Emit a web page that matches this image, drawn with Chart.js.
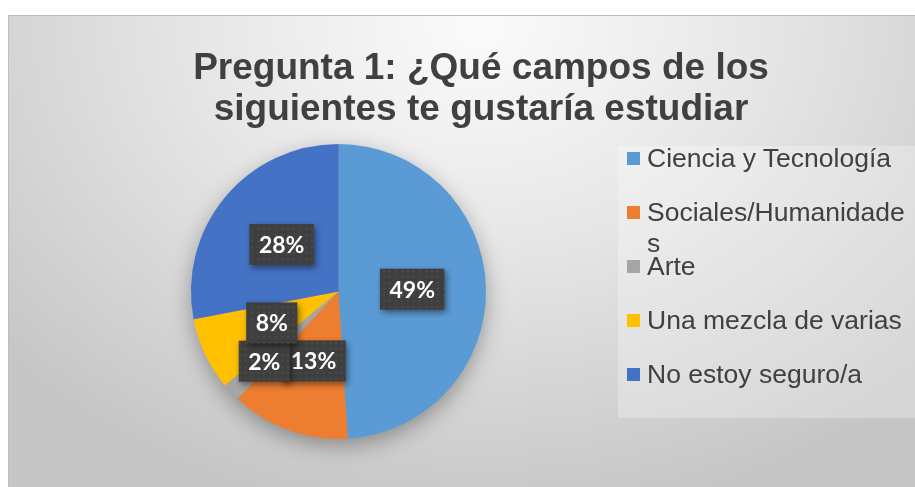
<!DOCTYPE html>
<html>
<head>
<meta charset="utf-8">
<script src="https://cdn.jsdelivr.net/npm/chart.js@4/dist/chart.umd.min.js"></script>
<style>
  html, body { margin: 0; padding: 0; background: #fff; width: 915px; height: 487px; overflow: hidden; }
  #box {
    position: absolute; left: 8px; top: 15px; width: 907px; height: 472px; box-sizing: border-box;
    border-top: 1px solid #bdbdbd; border-left: 1px solid #bdbdbd;
    background: radial-gradient(ellipse 70% 105% at 52% 2%, #fbfbfb 0%, #e6e6e6 45%, #c6c6c6 100%);
  }
  #pieChart { position: absolute; left: 0; top: 0; }
  #title {
    position: absolute; left: 181px; top: 46px; width: 600px; text-align: center;
    font: bold 37px "Liberation Sans", Arial, sans-serif; line-height: 41px; color: #404040;
  }
  #legend {
    position: absolute; left: 618px; top: 146px; width: 297px; height: 272px;
    background: rgba(255,255,255,0.28);
  }
  .item {
    position: absolute; left: 9px; display: flex; align-items: flex-start;
    font: 26.5px "Liberation Sans", Arial, sans-serif; line-height: 31px; color: #404040;
  }
  .item .sw { width: 13px; height: 13px; margin-top: 9.5px; margin-right: 7px; flex: none; }
  .item .tx { width: 264px; word-break: break-all; }
</style>
</head>
<body>
<div id="box"><canvas id="pieChart" width="906" height="471"></canvas></div>
<div id="title">Pregunta 1: ¿Qué campos de los siguientes te gustaría estudiar</div>
<div id="legend"></div>
<script>
const categories = ['Ciencia y Tecnología', 'Sociales/Humanidades', 'Arte', 'Una mezcla de varias', 'No estoy seguro/a'];
const values = [49, 13, 2, 8, 28];
const colors = ['#5B9BD5', '#ED7D31', '#A5A5A5', '#FFC000', '#4472C4'];

// patrón punteado de las etiquetas
function dotPattern(ctx) {
  const c = document.createElement('canvas');
  c.width = 6; c.height = 6;
  const g = c.getContext('2d');
  g.fillStyle = '#3f3f3f';
  g.fillRect(0, 0, 6, 6);
  g.fillStyle = '#4a4a4a';
  g.fillRect(2, 2, 2, 2);
  return ctx.createPattern(c, 'repeat');
}

const hit = (a, b) => a.x0 < b.x1 && a.x1 > b.x0 && a.y0 < b.y1 && a.y1 > b.y0;

const pieShadow = {
  id: 'pieShadow',
  beforeDatasetsDraw(chart) {
    const arc = chart.getDatasetMeta(0).data[0];
    if (!arc) return;
    const { x, y, outerRadius } = arc.getProps(['x', 'y', 'outerRadius'], true);
    const ctx = chart.ctx;
    ctx.save();
    ctx.shadowColor = 'rgba(0,0,0,0.35)';
    ctx.shadowBlur = 22;
    ctx.shadowOffsetY = 7;
    ctx.fillStyle = '#999';
    ctx.beginPath();
    ctx.arc(x, y, outerRadius - 1, 0, Math.PI * 2);
    ctx.fill();
    ctx.restore();
  }
};

const boxLabels = {
  id: 'boxLabels',
  afterDatasetsDraw(chart) {
    const ctx = chart.ctx;
    const meta = chart.getDatasetMeta(0);
    const data = chart.data.datasets[0].data;
    const total = data.reduce((a, b) => a + b, 0);
    const pattern = dotPattern(ctx);
    const placed = [];
    ctx.save();
    ctx.font = 'bold 23px Lato, "Open Sans", sans-serif';
    meta.data.forEach((arc, i) => {
      const { x, y, startAngle, endAngle, outerRadius } =
        arc.getProps(['x', 'y', 'startAngle', 'endAngle', 'outerRadius'], true);
      const mid = (startAngle + endAngle) / 2;
      const txt = Math.round(data[i] / total * 100) + '%';
      const tw = ctx.measureText(txt).width;
      const bw = tw + 19, bh = 41;
      let f = 0.5, cx, cy, b, t;
      // empuja la etiqueta hacia afuera si choca con otra
      for (; f < 1.3; f += 0.01) {
        cx = x + Math.cos(mid) * outerRadius * f;
        cy = y + Math.sin(mid) * outerRadius * f;
        b = { x0: cx - bw / 2, x1: cx + bw / 2, y0: cy - bh / 2, y1: cy + bh / 2 };
        t = { x0: cx - tw / 2, x1: cx + tw / 2, y0: cy - 10, y1: cy + 10 };
        if (!placed.some(p => hit(b, p.t) || hit(t, p.b))) break;
      }
      placed.push({ b, t });

      ctx.save();
      ctx.shadowColor = 'rgba(0,0,0,0.45)';
      ctx.shadowBlur = 6;
      ctx.shadowOffsetX = 2;
      ctx.shadowOffsetY = 3;
      ctx.fillStyle = pattern;
      ctx.fillRect(b.x0, b.y0, bw, bh);
      ctx.restore();

      ctx.fillStyle = '#fff';
      ctx.textAlign = 'center';
      ctx.textBaseline = 'middle';
      ctx.fillText(txt, cx, cy + 1);
    });
    ctx.restore();
  }
};

const chart = new Chart(document.getElementById('pieChart').getContext('2d'), {
  type: 'pie',
  data: {
    labels: categories,
    datasets: [{ data: values, backgroundColor: colors, borderWidth: 0 }]
  },
  options: {
    responsive: false,
    animation: false,
    layout: { padding: { left: 182, top: 128, right: 429, bottom: 48 } },
    plugins: { legend: { display: false }, title: { display: false }, tooltip: { enabled: false } }
  },
  plugins: [pieShadow, boxLabels]
});

// leyenda en HTML (para que "Sociales/Humanidades" se parta como en Excel)
const legendEl = document.getElementById('legend');
chart.data.labels.forEach((lab, i) => {
  const it = document.createElement('div');
  it.className = 'item';
  it.style.top = (-3.5 + i * 54) + 'px';
  it.innerHTML = `<span class="sw" style="background:${chart.data.datasets[0].backgroundColor[i]}"></span><span class="tx">${lab}</span>`;
  legendEl.appendChild(it);
});
</script>
</body>
</html>
